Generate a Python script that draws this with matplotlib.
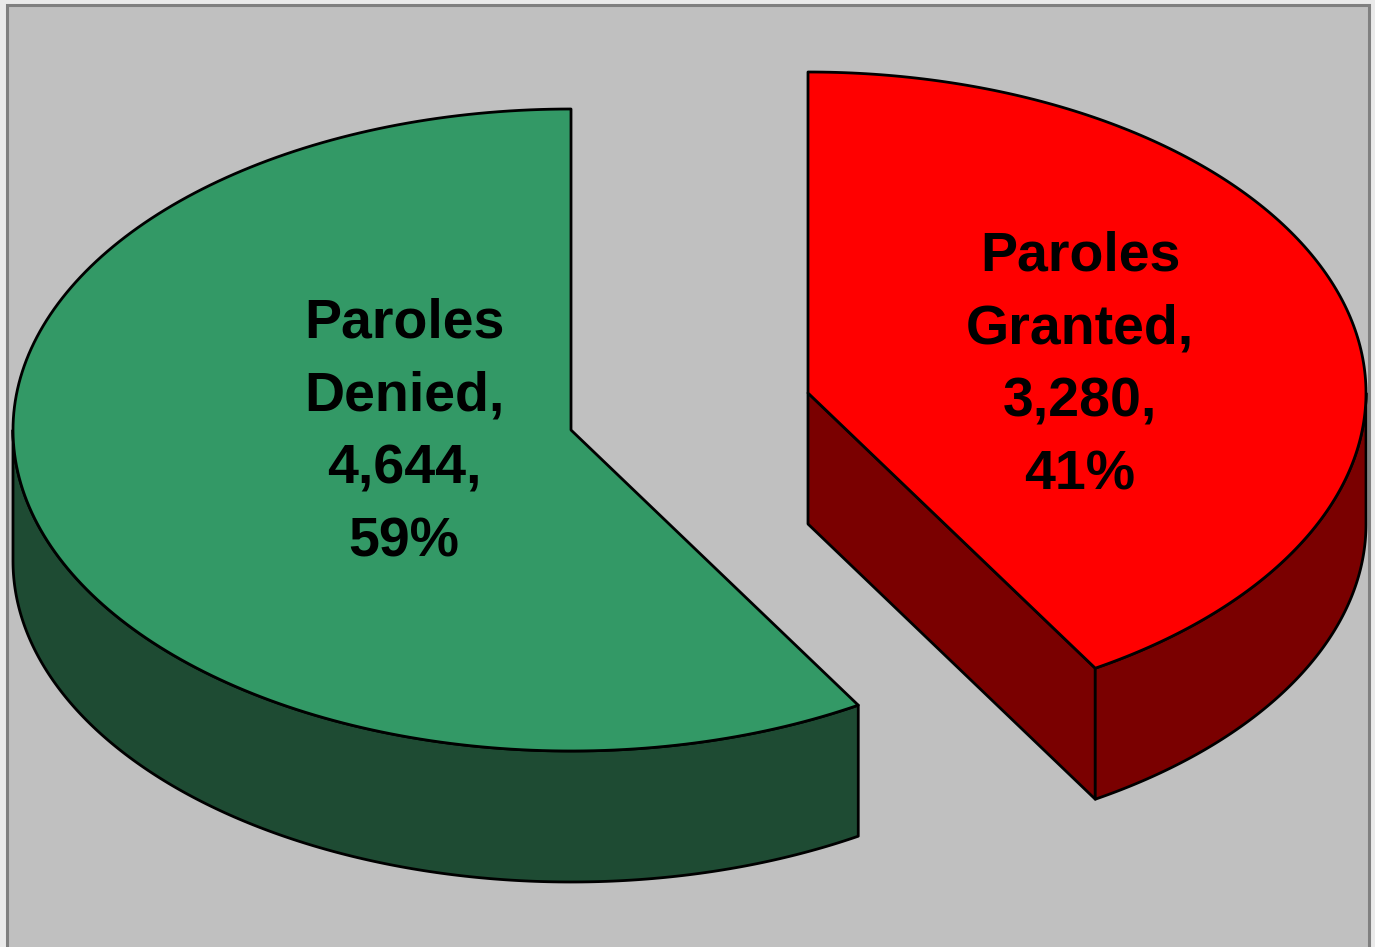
"""3D-style pie: paroles granted vs denied."""
import numpy as np
import matplotlib
matplotlib.use("Agg")
import matplotlib.pyplot as plt
from matplotlib.patches import Polygon, Rectangle

# data
labels = ["Paroles Granted", "Paroles Denied"]
counts = [3280, 4644]
top_colors = ["#FF0000", "#339966"]
side_colors = ["#7A0000", "#1E4B33"]

# layout (pixels)
W, H = 1375, 947
centers = [(808, 393), (571, 430)]
text_pos = [(1080, 366), (404, 433)]
RX, RY, DEPTH = 558, 321, 131

fig = plt.figure(figsize=(W / 100, H / 100), dpi=100, facecolor="#EAEAEA")
ax = fig.add_axes([0, 0, 1, 1])
ax.set_xlim(0, W)
ax.set_ylim(H, 0)
ax.axis("off")

ax.add_patch(Rectangle((7, 5), 1362, H + 20, facecolor="#C0C0C0",
                       edgecolor="#808080", lw=2.2))

total = sum(counts)
fracs = np.array(counts) / total
ends = 90 - 360 * np.cumsum(fracs)
starts = np.concatenate([[90], ends[:-1]])


def pt(c, t, dz=0):
    r = np.radians(t)
    return c[0] + RX * np.cos(r), c[1] - RY * np.sin(r) + dz


def arc(c, t1, t2, dz=0, n=200):
    ts = np.linspace(t1, t2, n)
    return [pt(c, t, dz) for t in ts]


edge = dict(edgecolor="black", lw=2.0, joinstyle="round")

for i in range(len(counts)):
    c = centers[i]
    t1, t2 = starts[i], ends[i]   # t1 > t2, clockwise

    # radial side faces
    for t, vis in ((t2, np.cos(np.radians(t2)) > 1e-6),
                   (t1, np.cos(np.radians(t1)) < -1e-6)):
        if vis:
            p = pt(c, t)
            face = [c, p, (p[0], p[1] + DEPTH), (c[0], c[1] + DEPTH)]
            ax.add_patch(Polygon(face, closed=True, facecolor=side_colors[i], **edge))

    # outer curved side: visible where sin(t) < 0
    for k in range(-2, 2):
        lo, hi = 180 + 360 * k, 360 + 360 * k
        a, b = max(t2, lo), min(t1, hi)
        if a < b:
            top = arc(c, a, b)
            bot = arc(c, b, a, DEPTH)
            ax.add_patch(Polygon(top + bot, closed=True, facecolor=side_colors[i], **edge))

    # top face
    ax.add_patch(Polygon([c] + arc(c, t1, t2), closed=True, facecolor=top_colors[i], **edge))

    pct = fracs[i] * 100
    txt = f"{labels[i].replace(' ', chr(10))},\n{counts[i]:,},\n{pct:.0f}%"
    ax.text(*text_pos[i], txt, ha="center", va="center", fontsize=40,
            fontweight="bold", family="Liberation Sans", linespacing=1.53)

fig.savefig("out.png", dpi=100, facecolor=fig.get_facecolor())
